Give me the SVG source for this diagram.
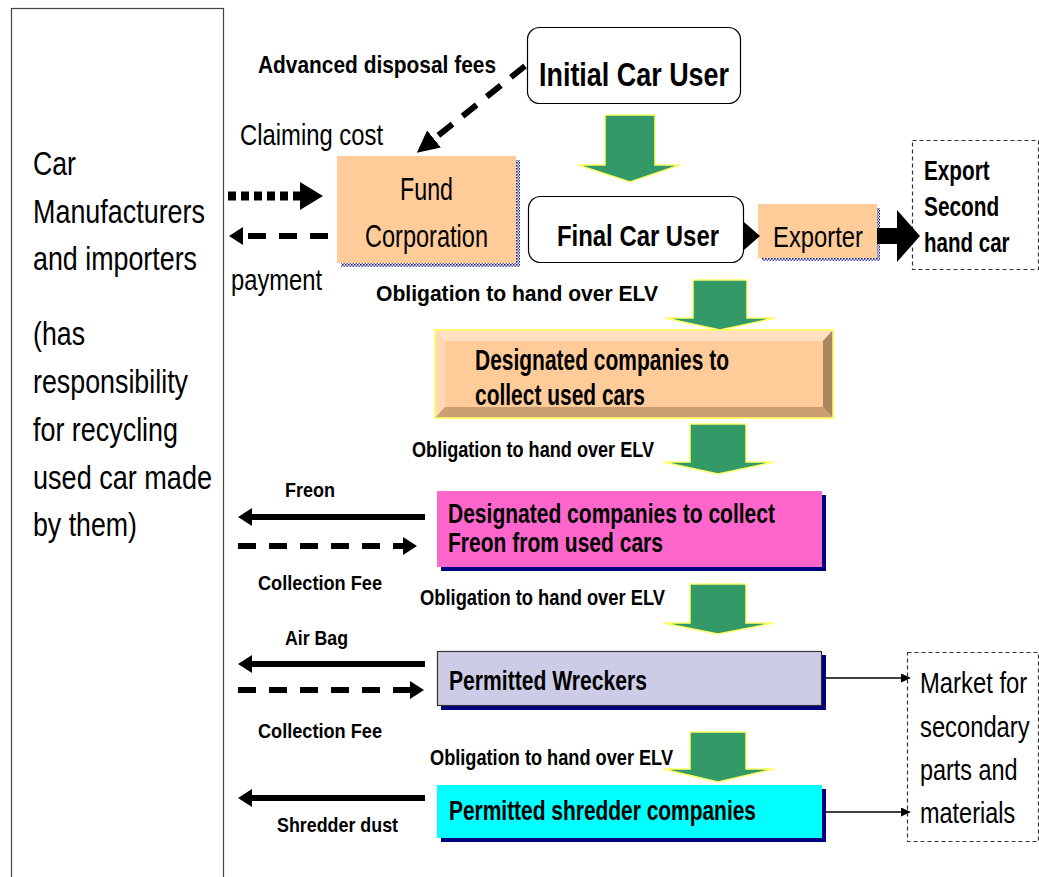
<svg xmlns="http://www.w3.org/2000/svg" width="1039" height="877" viewBox="0 0 1039 877">
<style>
text{font-family:"Liberation Sans",Arial,sans-serif;fill:#000}
.r{font-weight:normal}
.b{font-weight:bold}
.garrow{fill:#339966;stroke:#FFFF66;stroke-width:1.5}
.peach{fill:#FFCC99}
.shadow{fill:#000080}
.dashbox{fill:none;stroke:#333;stroke-width:1.2;stroke-dasharray:4 3}
.solid{stroke:#000;stroke-width:6;fill:none}
.dash{stroke:#000;stroke-width:6;fill:none;stroke-dasharray:18 13}
.thin{stroke:#000;stroke-width:1.5;fill:none}
</style>
<defs>
<pattern id="dots" width="3" height="3" patternUnits="userSpaceOnUse">
<rect width="3" height="3" fill="#ffffff"/>
<rect width="1.6" height="1.6" fill="#1a1a8c"/>
<rect x="1.5" y="1.5" width="1.5" height="1.5" fill="#5555aa"/>
</pattern>
<marker id="headS" markerUnits="userSpaceOnUse" markerWidth="14" markerHeight="18" refX="0" refY="9" orient="auto">
<path d="M0,0 L14,9 L0,18 z" fill="#000"/>
</marker>
<marker id="headBig" markerUnits="userSpaceOnUse" markerWidth="23" markerHeight="28" refX="0" refY="14" orient="auto">
<path d="M0,0 L23,14 L0,28 z" fill="#000"/>
</marker>
<marker id="headDiag" markerUnits="userSpaceOnUse" markerWidth="22" markerHeight="22" refX="0" refY="11" orient="auto">
<path d="M0,0 L22,11 L0,22 z" fill="#000"/>
</marker>
<marker id="headThin" markerUnits="userSpaceOnUse" markerWidth="10" markerHeight="9" refX="0" refY="4.5" orient="auto">
<path d="M0,0 L10,4.5 L0,9 z" fill="#000"/>
</marker>
</defs>
<rect width="1039" height="877" fill="#fff"/>

<g id="manufacturers">
<rect x="11.5" y="8.5" width="212" height="900" fill="#fff" stroke="#444" stroke-width="1.2"/>
<text class="r" font-size="34" x="33" y="175" textLength="43" lengthAdjust="spacingAndGlyphs">Car</text>
<text class="r" font-size="34" x="33" y="223" textLength="172" lengthAdjust="spacingAndGlyphs">Manufacturers</text>
<text class="r" font-size="34" x="33" y="270" textLength="164" lengthAdjust="spacingAndGlyphs">and importers</text>
<text class="r" font-size="34" x="33" y="345" textLength="52" lengthAdjust="spacingAndGlyphs">(has</text>
<text class="r" font-size="34" x="33" y="393" textLength="155" lengthAdjust="spacingAndGlyphs">responsibility</text>
<text class="r" font-size="34" x="33" y="441" textLength="145" lengthAdjust="spacingAndGlyphs">for recycling</text>
<text class="r" font-size="34" x="33" y="489" textLength="179" lengthAdjust="spacingAndGlyphs">used car made</text>
<text class="r" font-size="34" x="33" y="536" textLength="104" lengthAdjust="spacingAndGlyphs">by them)</text>
</g>

<g id="initial-car-user">
<rect x="527.5" y="27.5" width="213" height="76" rx="12" fill="#fff" stroke="#000" stroke-width="1.2"/>
<text class="b" font-size="34" x="539" y="86" textLength="190" lengthAdjust="spacingAndGlyphs">Initial Car User</text>
</g>

<g id="fund-corporation">
<rect x="341" y="160" width="179" height="107" fill="url(#dots)"/>
<rect x="337" y="156" width="179" height="107" class="peach"/>
<text class="r" font-size="32" x="400" y="200" textLength="53" lengthAdjust="spacingAndGlyphs">Fund</text>
<text class="r" font-size="32" x="365" y="247" textLength="123" lengthAdjust="spacingAndGlyphs">Corporation</text>
</g>

<g id="final-car-user">
<rect x="528.5" y="196.5" width="215" height="66" rx="12" fill="#fff" stroke="#000" stroke-width="1.2"/>
<text class="b" font-size="29" x="557" y="246" textLength="162" lengthAdjust="spacingAndGlyphs">Final Car User</text>
</g>

<g id="exporter">
<rect x="762" y="208" width="118" height="53" fill="url(#dots)"/>
<rect x="758" y="204" width="119" height="54" class="peach"/>
<text class="r" font-size="30" x="773" y="247" textLength="90" lengthAdjust="spacingAndGlyphs">Exporter</text>
</g>

<g id="export-second-hand">
<rect x="912.5" y="140.5" width="126" height="129" class="dashbox"/>
<g transform="translate(924,0) scale(0.8,1)">
<text class="b" font-size="28" x="0" y="180" textLength="82" lengthAdjust="spacingAndGlyphs">Export</text>
<text class="b" font-size="28" x="0" y="216" textLength="94" lengthAdjust="spacingAndGlyphs">Second</text>
<text class="b" font-size="28" x="0" y="252" textLength="107" lengthAdjust="spacingAndGlyphs">hand car</text>
</g>
</g>

<g id="collect-used-cars">
<rect x="435" y="330" width="398" height="88" fill="#FFCC99" stroke="#FFFF66" stroke-width="1.5"/>
<polygon points="435,330 833,330 823,341 445,341" fill="#FFE0C2"/>
<polygon points="435,330 445,341 445,407 435,418" fill="#FFDAB5"/>
<polygon points="833,330 833,418 823,407 823,341" fill="#A8865F"/>
<polygon points="435,418 833,418 823,407 445,407" fill="#CC9F73"/>
<rect x="435" y="330" width="398" height="88" fill="none" stroke="#FFFF66" stroke-width="1.5"/>
<text class="b" font-size="29" x="475" y="370" textLength="254" lengthAdjust="spacingAndGlyphs">Designated companies to</text>
<text class="b" font-size="29" x="475" y="405" textLength="170" lengthAdjust="spacingAndGlyphs">collect used cars</text>
</g>

<g id="collect-freon">
<rect x="441" y="495" width="385" height="76" class="shadow"/>
<rect x="437" y="491" width="385" height="76" fill="#FF66CC"/>
<text class="b" font-size="27" x="448" y="523" textLength="327" lengthAdjust="spacingAndGlyphs">Designated companies to collect</text>
<text class="b" font-size="27" x="448" y="552" textLength="215" lengthAdjust="spacingAndGlyphs">Freon from used cars</text>
</g>

<g id="permitted-wreckers">
<rect x="441" y="655" width="385" height="55" class="shadow"/>
<rect x="437.5" y="651.5" width="384" height="54" fill="#CCCCE6" stroke="#333" stroke-width="1.2"/>
<text class="b" font-size="27" x="449" y="690" textLength="198" lengthAdjust="spacingAndGlyphs">Permitted Wreckers</text>
</g>

<g id="permitted-shredders">
<rect x="441" y="789" width="385" height="53" class="shadow"/>
<rect x="437" y="785" width="385" height="53" fill="#00FFFF"/>
<text class="b" font-size="27" x="449" y="820" textLength="307" lengthAdjust="spacingAndGlyphs">Permitted shredder companies</text>
</g>

<g id="market">
<rect x="907.5" y="652.5" width="131" height="189" class="dashbox"/>
<g transform="translate(920,0) scale(0.8,1)">
<text class="r" font-size="30" x="0" y="693" textLength="134" lengthAdjust="spacingAndGlyphs">Market for</text>
<text class="r" font-size="30" x="0" y="737" textLength="137" lengthAdjust="spacingAndGlyphs">secondary</text>
<text class="r" font-size="30" x="0" y="780" textLength="122" lengthAdjust="spacingAndGlyphs">parts and</text>
<text class="r" font-size="30" x="0" y="823" textLength="119" lengthAdjust="spacingAndGlyphs">materials</text>
</g>
</g>

<g id="connectors">
<polygon class="garrow" points="605,115 655,115 655,165 680,165 630,182 578,165 605,165"/>
<polygon class="garrow" points="693,280 747,280 747,318 775,318 720,330 665,318 693,318"/>
<polygon class="garrow" points="690,424 746,424 746,462 774,462 718,474 663,462 690,462"/>
<polygon class="garrow" points="690,584 746,584 746,623 774,623 718,634 663,623 690,623"/>
<polygon class="garrow" points="690,732 746,732 746,769 774,769 718,782 663,769 690,769"/>

<line x1="525" y1="66" x2="434" y2="139" class="dash" stroke-dasharray="18 12" marker-end="url(#headDiag)"/>
<line x1="228" y1="196" x2="300" y2="196" stroke="#000" stroke-width="9" stroke-dasharray="8 5" marker-end="url(#headBig)"/>
<line x1="328" y1="236" x2="243" y2="236" class="dash" stroke-width="7" marker-end="url(#headS)"/>
<polygon points="744,222 760,236 744,250" fill="#000"/>
<polygon points="877,228 897,228 897,210 920,236 897,262 897,244 877,244" fill="#000"/>

<line x1="425" y1="517" x2="252" y2="517" class="solid" marker-end="url(#headS)"/>
<line x1="238" y1="546" x2="403" y2="546" class="dash" marker-end="url(#headS)"/>
<line x1="425" y1="664" x2="252" y2="664" class="solid" marker-end="url(#headS)"/>
<line x1="238" y1="690" x2="410" y2="690" class="dash" marker-end="url(#headS)"/>
<line x1="425" y1="798" x2="252" y2="798" class="solid" marker-end="url(#headS)"/>

<line x1="826" y1="678" x2="901" y2="678" class="thin" marker-end="url(#headThin)"/>
<line x1="826" y1="812" x2="901" y2="812" class="thin" marker-end="url(#headThin)"/>
</g>

<g id="labels">
<text class="b" font-size="24" x="258" y="73" textLength="238" lengthAdjust="spacingAndGlyphs">Advanced disposal fees</text>
<text class="r" font-size="29" x="240" y="145" textLength="143" lengthAdjust="spacingAndGlyphs">Claiming cost</text>
<text class="r" font-size="29" x="231" y="290" textLength="91" lengthAdjust="spacingAndGlyphs">payment</text>
<text class="b" font-size="22" x="376" y="301" textLength="282" lengthAdjust="spacingAndGlyphs">Obligation to hand over ELV</text>
<text class="b" font-size="22" x="412" y="457" textLength="242" lengthAdjust="spacingAndGlyphs">Obligation to hand over ELV</text>
<text class="b" font-size="22" x="420" y="605" textLength="245" lengthAdjust="spacingAndGlyphs">Obligation to hand over ELV</text>
<text class="b" font-size="22" x="430" y="765" textLength="243" lengthAdjust="spacingAndGlyphs">Obligation to hand over ELV</text>
<text class="b" font-size="21" x="285" y="497" textLength="50" lengthAdjust="spacingAndGlyphs">Freon</text>
<text class="b" font-size="21" x="258" y="590" textLength="124" lengthAdjust="spacingAndGlyphs">Collection Fee</text>
<text class="b" font-size="21" x="285" y="645" textLength="63" lengthAdjust="spacingAndGlyphs">Air Bag</text>
<text class="b" font-size="21" x="258" y="738" textLength="124" lengthAdjust="spacingAndGlyphs">Collection Fee</text>
<text class="b" font-size="21" x="277" y="832" textLength="121" lengthAdjust="spacingAndGlyphs">Shredder dust</text>
</g>
</svg>
